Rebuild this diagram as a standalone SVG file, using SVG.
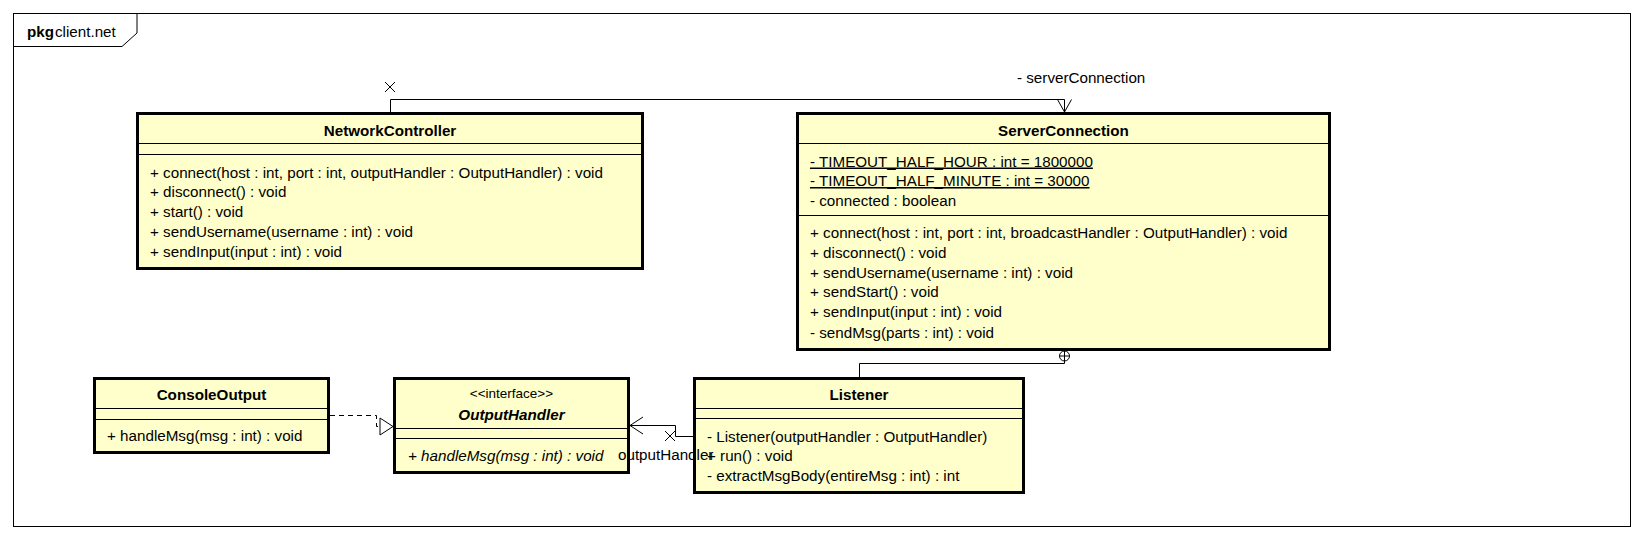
<svg xmlns="http://www.w3.org/2000/svg" width="1644" height="540" viewBox="0 0 1644 540">
<style>
text{font-family:"Liberation Sans",Arial,sans-serif;font-size:15.2px;fill:#000}
.t{font-weight:bold;text-anchor:middle}
.bi{font-weight:bold;font-style:italic;text-anchor:middle}
.it{font-style:italic}
.st{font-size:13.5px;text-anchor:middle}
.u{text-decoration:underline}
.box{fill:#FFFFCC;stroke:#000;stroke-width:3}
.sep{stroke:#000;stroke-width:1;fill:none}
.ln{stroke:#000;stroke-width:1;fill:none}
.dash{stroke:#000;stroke-width:1;fill:none;stroke-dasharray:5,4}
</style>
<rect x="0" y="0" width="1644" height="540" fill="#fff"/>
<g id="frame">
<rect x="13.5" y="13.5" width="1617" height="513" fill="none" stroke="#000" stroke-width="1"/>
<polyline points="13.5,46.5 122,46.5 137,33 137,13.5" fill="none" stroke="#000" stroke-width="1"/>
<text x="27" y="37"><tspan font-weight="bold">pkg</tspan><tspan x="55">client.net</tspan></text>
</g>
<g id="NetworkController">
<rect class="box" x="137.5" y="113.5" width="505" height="155"/>
<text class="t" x="390" y="136">NetworkController</text>
<line class="sep" x1="137" y1="143.5" x2="643" y2="143.5"/>
<line class="sep" x1="137" y1="154.5" x2="643" y2="154.5"/>
<text x="150" y="177.5">+ connect(host : int, port : int, outputHandler : OutputHandler) : void</text>
<text x="150" y="197">+ disconnect() : void</text>
<text x="150" y="217">+ start() : void</text>
<text x="150" y="236.5">+ sendUsername(username : int) : void</text>
<text x="150" y="256.5">+ sendInput(input : int) : void</text>
</g>
<g id="ServerConnection">
<rect class="box" x="797.5" y="113.5" width="532" height="236"/>
<text class="t" x="1063.5" y="136">ServerConnection</text>
<line class="sep" x1="797" y1="143.5" x2="1330" y2="143.5"/>
<text class="u" x="810" y="166.5">- TIMEOUT_HALF_HOUR : int = 1800000</text>
<text class="u" x="810" y="186">- TIMEOUT_HALF_MINUTE : int = 30000</text>
<text x="810" y="206">- connected : boolean</text>
<line class="sep" x1="797" y1="215.5" x2="1330" y2="215.5"/>
<text x="810" y="237.5">+ connect(host : int, port : int, broadcastHandler : OutputHandler) : void</text>
<text x="810" y="257.5">+ disconnect() : void</text>
<text x="810" y="277.5">+ sendUsername(username : int) : void</text>
<text x="810" y="297">+ sendStart() : void</text>
<text x="810" y="317">+ sendInput(input : int) : void</text>
<text x="810" y="337.5">- sendMsg(parts : int) : void</text>
</g>
<g id="ConsoleOutput">
<rect class="box" x="94.5" y="378.5" width="234" height="74"/>
<text class="t" x="211.5" y="400">ConsoleOutput</text>
<line class="sep" x1="94" y1="408.5" x2="329" y2="408.5"/>
<line class="sep" x1="94" y1="419.5" x2="329" y2="419.5"/>
<text x="107" y="440.5">+ handleMsg(msg : int) : void</text>
</g>
<g id="OutputHandler">
<rect class="box" x="394.5" y="378.5" width="234" height="94"/>
<text class="st" x="511.5" y="398">&lt;&lt;interface&gt;&gt;</text>
<text class="bi" x="511.5" y="420">OutputHandler</text>
<line class="sep" x1="394" y1="428.5" x2="629" y2="428.5"/>
<line class="sep" x1="394" y1="438.5" x2="629" y2="438.5"/>
<text class="it" x="408" y="461">+ handleMsg(msg : int) : void</text>
</g>
<g id="Listener">
<rect class="box" x="694.5" y="378.5" width="329" height="114"/>
<text class="t" x="859" y="400">Listener</text>
<line class="sep" x1="694" y1="408.5" x2="1024" y2="408.5"/>
<line class="sep" x1="694" y1="418.5" x2="1024" y2="418.5"/>
<text x="707" y="441.5">- Listener(outputHandler : OutputHandler)</text>
<text x="707" y="461">+ run() : void</text>
<text x="707" y="480.5">- extractMsgBody(entireMsg : int) : int</text>
</g>
<g id="connectors">
<polyline class="ln" points="390.5,112 390.5,99.5 1064.5,99.5 1064.5,112"/>
<polyline class="ln" points="1057.5,99.5 1064.5,112 1071.5,99.5"/>
<path class="ln" d="M385,82 L395,92 M385,92 L395,82"/>
<text x="1017" y="83">- serverConnection</text>
<polyline class="ln" points="859.5,377 859.5,363.5 1064.5,363.5 1064.5,361"/>
<circle cx="1064.5" cy="356" r="5" fill="#fff" stroke="#000" stroke-width="1"/>
<path class="ln" d="M1059.5,356 H1069.5 M1064.5,351 V361"/>
<polyline class="dash" points="330,415.5 376.5,415.5 376.5,426.5 380,426.5"/>
<polygon points="380,418 393,426.5 380,435" fill="#fff" stroke="#000" stroke-width="1"/>
<polyline class="ln" points="693,436.5 675.5,436.5 675.5,425.5 630,425.5"/>
<polyline class="ln" points="643,417 630,425.5 643,434"/>
<path class="ln" d="M665,431 L675,441 M665,441 L675,431"/>
<text x="618" y="460">outputHandler</text>
</g>
</svg>
